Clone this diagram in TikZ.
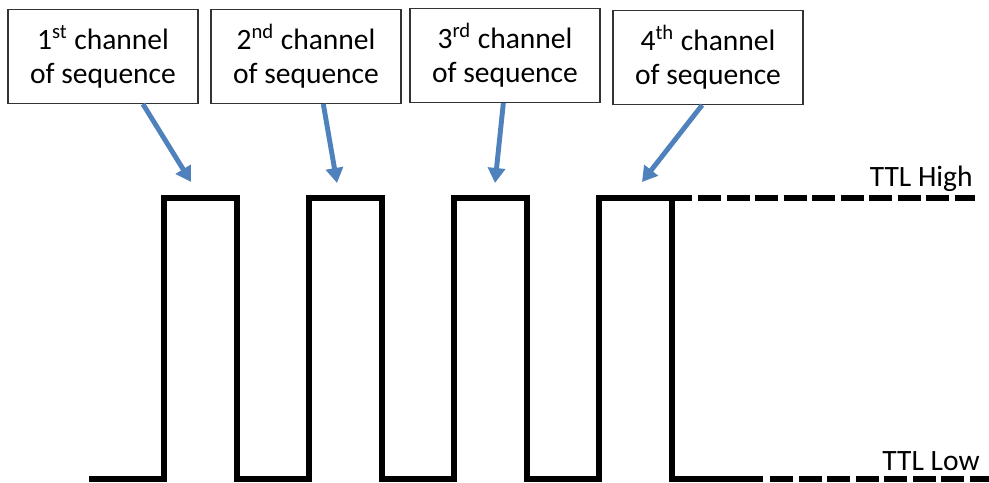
\documentclass[tikz,border=0pt]{standalone}
\usepackage{fontspec}
\setmainfont{Carlito}
\usepackage{tikz}
\usetikzlibrary{arrows.meta}

\definecolor{arrowblue}{RGB}{79,129,189}

\begin{document}
\begin{tikzpicture}[
    line cap=butt,
    line join=miter,
    chanbox/.style={draw=black!80, line width=0.6pt, minimum width=3.8cm,
        minimum height=1.88cm, inner sep=0pt, align=center,
        font=\fontsize{16.8}{19.5}\selectfont},
    chanarrow/.style={draw=arrowblue, line width=2.8pt,
        -{Triangle[length=3mm, width=3.4mm]}},
    signal/.style={line width=3.8pt},
    level/.style={inner sep=0pt, font=\fontsize{16.8}{19.5}\selectfont}
]
\useasboundingbox (0,0) rectangle (19.78,9.64);

% Kanaele der Sequenz
\node[chanbox] (ch1) at (2.06,8.51) {1\textsuperscript{st} channel\\of sequence};
\node[chanbox] (ch2) at (6.12,8.51) {2\textsuperscript{nd} channel\\of sequence};
\node[chanbox] (ch3) at (10.10,8.53) {3\textsuperscript{rd} channel\\of sequence};
\node[chanbox] (ch4) at (14.16,8.49) {4\textsuperscript{th} channel\\of sequence};

% Pfeilspitzen ueber den Pulsen
\coordinate (tip1) at (3.82,6.00);
\coordinate (tip2) at (6.74,5.98);
\coordinate (tip3) at (9.90,5.98);
\coordinate (tip4) at (12.84,6.00);

\draw[chanarrow] (ch1.310) -- (tip1);
\draw[chanarrow] (ch2.290) -- (tip2);
\draw[chanarrow] (ch3.268) -- (tip3);
\draw[chanarrow] (ch4.263) -- (tip4);

% Pulsfolge
\draw[signal]
    (1.78,0.06) -- (3.28,0.06) -- (3.28,5.68) -- (4.74,5.68)
    -- (4.74,0.06) -- (6.18,0.06) -- (6.18,5.68) -- (7.64,5.68)
    -- (7.64,0.06) -- (9.08,0.06) -- (9.08,5.68) -- (10.54,5.68)
    -- (10.54,0.06) -- (11.98,0.06) -- (11.98,5.68) -- (13.84,5.68);
\draw[signal] (13.44,5.68) -- (13.44,0.06) -- (15.26,0.06);

% Pegel weiter gestrichelt
\draw[signal, dash pattern=on 0.46cm off 0.11cm] (13.96,5.68) -- (19.50,5.68);
\draw[signal, dash pattern=on 0.46cm off 0.11cm] (15.40,0.06) -- (19.78,0.06);

% Beschriftung
\node[level, anchor=base east] (high) at (19.46,5.90) {TTL High};
\node[level, anchor=base east] (low) at (19.60,0.24) {TTL Low};

\end{tikzpicture}
\end{document}
